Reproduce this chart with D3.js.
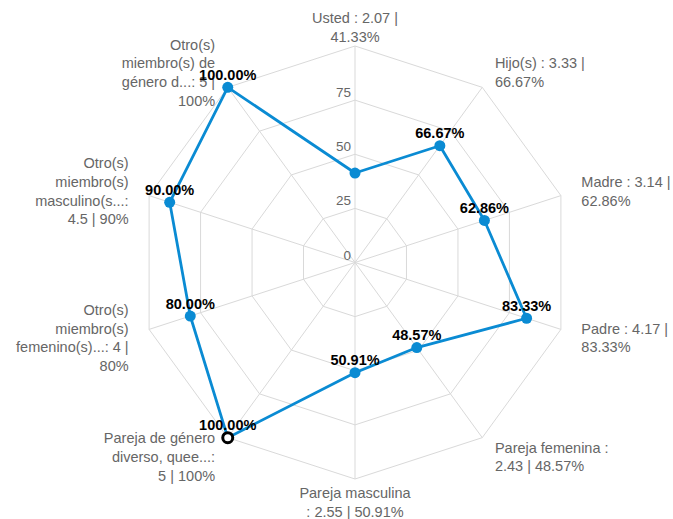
<!DOCTYPE html>
<html><head><meta charset="utf-8">
<script src="https://cdn.jsdelivr.net/npm/d3@7"></script>
<style>
html,body{margin:0;padding:0;background:#fff;}
svg{display:block;font-family:"Liberation Sans",Arial,sans-serif;}
</style></head>
<body>
<svg id="chart" width="673" height="519"></svg>
<script>
const categories = ["Usted","Hijo(s)","Madre","Padre","Pareja femenina","Pareja masculina","Pareja de género diverso, quee...","Otro(s) miembro(s) femenino(s)...","Otro(s) miembro(s) masculino(s...","Otro(s) miembro(s) de género d..."];
const scores = [2.07, 3.33, 3.14, 4.17, 2.43, 2.55, 5, 4, 4.5, 5];
const percents = [41.33, 66.67, 62.86, 83.33, 48.57, 50.91, 100, 80, 90, 100];
const tickValues = [0, 25, 50, 75, 100];
const labelLines = [
  ["Usted : 2.07 |", "41.33%"],
  ["Hijo(s) : 3.33 |", "66.67%"],
  ["Madre : 3.14 |", "62.86%"],
  ["Padre : 4.17 |", "83.33%"],
  ["Pareja femenina :", "2.43 | 48.57%"],
  ["Pareja masculina", ": 2.55 | 50.91%"],
  ["Pareja de género", "diverso, quee...:", "5 | 100%"],
  ["Otro(s)", "miembro(s)", "femenino(s)...: 4 |", "80%"],
  ["Otro(s)", "miembro(s)", "masculino(s...:", "4.5 | 90%"],
  ["Otro(s)", "miembro(s) de", "género d...: 5 |", "100%"]
];
const highlighted = 6;
const hiddenDataLabels = [0];

const svg = d3.select("#chart");
const cx = 355, cy = 262.5, R = 216.5;
const n = categories.length;
const r = d3.scaleLinear().domain([0, 100]).range([0, R]);
const ang = d3.scaleLinear().domain([0, n]).range([0, 2 * Math.PI]);
const pt = (i, v) => [cx + r(v) * Math.sin(ang(i)), cy - r(v) * Math.cos(ang(i))];

const g = svg.append("g");
// grid polygons
tickValues.filter(t => t > 0).forEach(t => {
  g.append("polygon")
    .attr("points", d3.range(n).map(i => pt(i, t).join(",")).join(" "))
    .attr("fill", "none").attr("stroke", "#d9d9d9").attr("stroke-width", 1);
});
// spokes
d3.range(n).forEach(i => {
  const p = pt(i, 100);
  g.append("line").attr("x1", cx).attr("y1", cy).attr("x2", p[0]).attr("y2", p[1])
    .attr("stroke", "#d9d9d9").attr("stroke-width", 1);
});
// tick labels
tickValues.filter(t => t < 100).forEach(t => {
  g.append("text").attr("x", cx - 4).attr("y", cy - r(t) - 3)
    .attr("text-anchor", "end").attr("fill", "#666").attr("font-size", 13.5).text(t);
});
// axis labels
const lh = 18.7;
labelLines.forEach((lines, i) => {
  const a = ang(i);
  const s = Math.sin(a), c = Math.cos(a);
  let anchor = Math.abs(s) < 1e-6 ? "middle" : (s > 0 ? "start" : "end");
  const x = cx + 238 * s;
  const mid = cy + 7.25 - 237.5 * c;
  const y0 = mid - (lines.length - 1) * lh / 2;
  const t = g.append("text").attr("text-anchor", anchor).attr("fill", "#666").attr("font-size", 14.5);
  lines.forEach((ln, k) => {
    t.append("tspan").attr("x", x).attr("y", y0 + k * lh).text(ln);
  });
});
// series line
const blue = "#0a8bd3";
const radial = d3.lineRadial().angle((d, i) => ang(i)).radius(d => r(d)).curve(d3.curveLinearClosed);
g.append("path").attr("transform", `translate(${cx},${cy})`)
  .attr("d", radial(percents)).attr("fill", "none").attr("stroke", blue).attr("stroke-width", 2.8)
  .attr("stroke-linejoin", "round");
// points
percents.forEach((v, i) => {
  const p = pt(i, v);
  if (i === highlighted) {
    g.append("circle").attr("cx", p[0]).attr("cy", p[1]).attr("r", 5)
      .attr("fill", "#fff").attr("stroke", "#000").attr("stroke-width", 3);
  } else {
    g.append("circle").attr("cx", p[0]).attr("cy", p[1]).attr("r", 5.5).attr("fill", blue);
  }
});
// data labels
const fmt = d3.format(".2f");
percents.forEach((v, i) => {
  if (hiddenDataLabels.includes(i)) return;
  const p = pt(i, v);
  g.append("text").attr("x", p[0]).attr("y", p[1] - 7.5).attr("text-anchor", "middle")
    .attr("font-weight", "bold").attr("font-size", 14.5).attr("fill", "#000")
    .text(fmt(v) + "%");
});
</script>
</body></html>
